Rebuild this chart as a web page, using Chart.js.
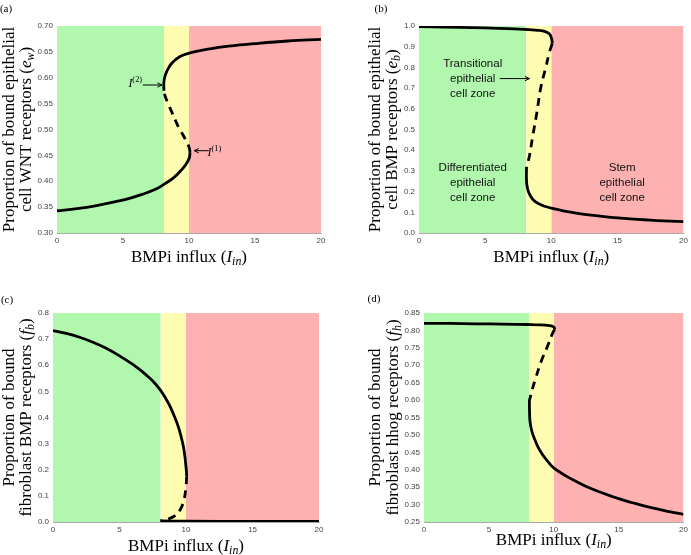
<!DOCTYPE html>
<html>
<head>
<meta charset="utf-8">
<script src="https://cdn.jsdelivr.net/npm/chart.js@4.4.0/dist/chart.umd.min.js"></script>
<style>
  body { margin: 0; background: #fff; }
  #wrap { position: relative; width: 691px; height: 555px; }
  canvas { position: absolute; }
</style>
</head>
<body>
<div id="wrap">
  <canvas id="pa" width="345" height="277" style="left:0;top:0"></canvas>
  <canvas id="pb" width="346" height="277" style="left:345px;top:0"></canvas>
  <canvas id="pc" width="345" height="278" style="left:0;top:277px"></canvas>
  <canvas id="pd" width="346" height="278" style="left:345px;top:277px"></canvas>
</div>
<script>
// zones along the BMPi influx axis
var zoneEdges = [0, 8.1, 10, 20];
var zoneColors = ['#b1f7ae', '#fefcb0', '#fdb1b1'];
var xTicks = [0, 5, 10, 15, 20];

// (a) epithelial WNT receptors e_w
var aTicks = [0.30, 0.35, 0.40, 0.45, 0.50, 0.55, 0.60, 0.65, 0.70];
var aLabels = ['0.30', '0.35', '0.40', '0.45', '0.50', '0.55', '0.60', '0.65', '0.70'];
var aLower = [[0,0.343],[1.5,0.347],[3,0.353],[4.5,0.361],[5.5,0.367],[6.5,0.375],[7.5,0.385],[8.1,0.394],[8.8,0.406],[9.4,0.421],[9.8,0.434],[10.02,0.445],[10.08,0.456]];
var aMiddle = [[10.08,0.456],[10.0,0.466],[9.82,0.476],[9.6,0.487],[9.32,0.499],[9.0,0.516],[8.69,0.534],[8.4,0.551],[8.2,0.564],[8.1,0.575]];
var aUpper = [[8.1,0.575],[8.09,0.589],[8.15,0.600],[8.31,0.612],[8.69,0.628],[9.32,0.641],[10.08,0.648],[11.6,0.656],[13,0.661],[15,0.666],[17.5,0.671],[20,0.674]];

// (b) epithelial BMP receptors e_b
var bTicks = [0, 0.1, 0.2, 0.3, 0.4, 0.5, 0.6, 0.7, 0.8, 0.9, 1.0];
var bLabels = ['0.0', '0.1', '0.2', '0.3', '0.4', '0.5', '0.6', '0.7', '0.8', '0.9', '1.0'];
var bUpper = [[0,0.997],[2,0.995],[4,0.992],[6,0.989],[8,0.984],[9,0.979],[9.6,0.972],[9.85,0.962],[9.98,0.948],[10.05,0.932],[10.07,0.915]];
var bMiddle = [[10.07,0.915],[9.97,0.895],[9.85,0.872],[9.6,0.803],[9.22,0.707],[8.9,0.578],[8.59,0.465],[8.35,0.372],[8.2,0.335],[8.13,0.32]];
var bLower = [[8.13,0.32],[8.12,0.275],[8.15,0.235],[8.28,0.198],[8.6,0.162],[9.0,0.143],[9.5,0.129],[10,0.12],[11,0.106],[12,0.095],[13,0.086],[14,0.079],[15,0.073],[16,0.068],[17,0.064],[18,0.06],[19,0.057],[20,0.055]];

// (c) fibroblast BMP receptors f_b
var cTicks = [0, 0.1, 0.2, 0.3, 0.4, 0.5, 0.6, 0.7, 0.8];
var cLabels = ['0.0', '0.1', '0.2', '0.3', '0.4', '0.5', '0.6', '0.7', '0.8'];
var cUpper = [[0,0.733],[1,0.722],[2,0.707],[3,0.688],[4,0.665],[5,0.636],[6,0.603],[6.5,0.584],[7,0.563],[7.5,0.54],[8.05,0.507],[8.5,0.471],[8.8,0.443],[9.1,0.408],[9.42,0.365],[9.65,0.323],[9.8,0.29],[9.92,0.25],[9.98,0.22],[10.03,0.195],[10.05,0.175]];
var cMiddle = [[10.05,0.175],[10.0,0.135],[9.85,0.085],[9.55,0.046],[9.05,0.02],[8.42,0.008],[8.08,0.004]];
var cLower = [[8.08,0.004],[10,0.003],[15,0.002],[20,0.002]];

// (d) fibroblast hhog receptors f_h
var dTicks = [0.25, 0.30, 0.35, 0.40, 0.45, 0.50, 0.55, 0.60, 0.65, 0.70, 0.75, 0.80, 0.85];
var dLabels = ['0.25', '0.30', '0.35', '0.40', '0.45', '0.50', '0.55', '0.60', '0.65', '0.70', '0.75', '0.80', '0.85'];
var dUpper = [[0,0.820],[2,0.820],[4,0.819],[6,0.818],[8,0.817],[9,0.816],[9.66,0.814],[9.9,0.812],[10.04,0.808],[10.07,0.803]];
var dMiddle = [[10.07,0.803],[9.91,0.792],[9.53,0.756],[9.02,0.71],[8.64,0.667],[8.33,0.629],[8.18,0.607],[8.12,0.6]];
var dLower = [[8.12,0.6],[8.13,0.57],[8.17,0.538],[8.3,0.512],[8.5,0.49],[8.8,0.464],[9.14,0.443],[9.6,0.421],[10.04,0.404],[11,0.381],[11.7,0.367],[12.5,0.352],[13.5,0.337],[15,0.317],[16,0.306],[17.5,0.291],[19,0.279],[20,0.272]];

var SERIF = '"Liberation Serif", "Times New Roman", serif';
var SANS = '"Liberation Sans", Arial, sans-serif';

// little rich-text helpers (italic, sub/superscripts)
function t(s) { return { t: s }; }
function it(s) { return { t: s, it: true }; }
function sub(s) { return { t: s, it: true, sub: true }; }
function sup(s) { return { t: s, sup: true }; }

function runFont(r, size, fam) {
  var s = (r.sub || r.sup) ? size * 0.7 : size;
  return (r.it ? 'italic ' : '') + s + 'px ' + fam;
}
function runsWidth(ctx, runs, size, fam) {
  var w = 0;
  runs.forEach(function (r) { ctx.font = runFont(r, size, fam); w += ctx.measureText(r.t).width; });
  return w;
}
// draws runs with left edge at x, baseline at y
function drawRuns(ctx, runs, x, y, size, fam) {
  runs.forEach(function (r) {
    ctx.font = runFont(r, size, fam);
    var dy = r.sub ? size * 0.22 : (r.sup ? -size * 0.42 : 0);
    ctx.fillText(r.t, x, y + dy);
    x += ctx.measureText(r.t).width;
  });
}
function drawText(ctx, runs, cx, cy, size, fam, align, rot) {
  ctx.save();
  ctx.translate(cx, cy);
  if (rot) ctx.rotate(-Math.PI / 2);
  ctx.textAlign = 'left';
  ctx.textBaseline = 'alphabetic';
  var w = runsWidth(ctx, runs, size, fam);
  var x0 = align === 'left' ? 0 : (align === 'right' ? -w : -w / 2);
  drawRuns(ctx, runs, x0, size * 0.33, size, fam);
  ctx.restore();
}
function drawArrow(ctx, x1, y1, x2, y2) {
  var a = Math.atan2(y2 - y1, x2 - x1), h = 5;
  ctx.save();
  ctx.strokeStyle = '#000';
  ctx.lineWidth = 1;
  ctx.beginPath();
  ctx.moveTo(x1, y1); ctx.lineTo(x2, y2);
  ctx.moveTo(x2 - h * Math.cos(a - 0.45), y2 - h * Math.sin(a - 0.45));
  ctx.lineTo(x2, y2);
  ctx.lineTo(x2 - h * Math.cos(a + 0.45), y2 - h * Math.sin(a + 0.45));
  ctx.stroke();
  ctx.restore();
}

function textPlugin(p) {
  return {
    id: 'paperText',
    afterDraw: function (chart) {
      var ctx = chart.ctx, area = chart.chartArea;
      var xs = chart.scales.x, ys = chart.scales.y;
      ctx.fillStyle = '#000';
      drawText(ctx, [t(p.tag)], p.tagPos[0], p.tagPos[1], 11, SERIF, 'center', false);
      var cy = (area.top + area.bottom) / 2;
      drawText(ctx, p.yLine1, p.yPos[0], cy, 17, SERIF, 'center', true);
      drawText(ctx, p.yLine2, p.yPos[1], cy, 17, SERIF, 'center', true);
      drawText(ctx, [t('BMPi influx ('), it('I'), sub('in'), t(')')], (area.left + area.right) / 2, p.xTitleY, 17, SERIF, 'center', false);
      (p.notes || []).forEach(function (n) {
        ctx.fillStyle = n.color || '#000';
        drawText(ctx, n.runs, xs.getPixelForValue(n.at[0]), ys.getPixelForValue(n.at[1]), n.size, n.fam, n.align, false);
      });
      (p.arrows || []).forEach(function (a) {
        drawArrow(ctx, xs.getPixelForValue(a[0]), ys.getPixelForValue(a[1]), xs.getPixelForValue(a[2]), ys.getPixelForValue(a[3]));
      });
    }
  };
}

function makePanel(id, p) {
  var datasets = [];
  var yMax = p.yTicks[p.yTicks.length - 1];
  for (var z = 0; z < zoneColors.length; z++) {
    datasets.push({
      data: [{ x: zoneEdges[z], y: yMax }, { x: zoneEdges[z + 1], y: yMax }],
      showLine: true, fill: 'start', backgroundColor: zoneColors[z],
      borderColor: 'transparent', borderWidth: 0, pointRadius: 0, order: 10
    });
  }
  p.branches.forEach(function (b) {
    datasets.push({
      data: b.pts.map(function (q) { return { x: q[0], y: q[1] }; }),
      showLine: true, fill: false, borderColor: '#000', borderWidth: 2.8,
      borderDash: b.dashed ? [8, 6] : [], borderCapStyle: 'butt',
      pointRadius: 0, tension: 0.4, order: 0
    });
  });
  new Chart(document.getElementById(id), {
    type: 'scatter',
    data: { datasets: datasets },
    options: {
      responsive: false,
      animation: false,
      events: [],
      layout: { padding: { left: 0, top: p.top, right: p.right, bottom: 0 } },
      plugins: { legend: { display: false }, tooltip: { enabled: false } },
      scales: {
        x: {
          type: 'linear', min: 0, max: 20,
          afterBuildTicks: function (s) { s.ticks = xTicks.map(function (v) { return { value: v }; }); },
          afterFit: function (s) { s.height = p.xAxisH; },
          ticks: { font: { family: SANS, size: 8 }, color: '#444', padding: 3, maxRotation: 0 },
          grid: { drawOnChartArea: false, drawTicks: false },
          border: { color: '#a8a8a8' }
        },
        y: {
          type: 'linear', min: p.yTicks[0], max: yMax,
          afterBuildTicks: function (s) { s.ticks = p.yTicks.map(function (v) { return { value: v }; }); },
          afterFit: function (s) { s.width = p.left; },
          ticks: {
            font: { family: SANS, size: 8 }, color: '#444', padding: 4,
            callback: function (v) { return p.yLabels[p.yTicks.indexOf(v)]; }
          },
          grid: { drawOnChartArea: false, drawTicks: false },
          border: { color: '#a8a8a8' }
        }
      }
    },
    plugins: [textPlugin(p)]
  });
}

makePanel('pa', {
  left: 57, top: 26, right: 24, xAxisH: 44,
  yTicks: aTicks, yLabels: aLabels,
  branches: [{ pts: aLower }, { pts: aMiddle, dashed: true }, { pts: aUpper }],
  tag: '(a)', tagPos: [6, 8],
  yLine1: [t('Proportion of bound epithelial')],
  yLine2: [t('cell WNT receptors ('), it('e'), sub('w'), t(')')],
  yPos: [8, 25], xTitleY: 256,
  notes: [
    { runs: [it('I'), sup('(2)')], at: [6.45, 0.589], size: 12, fam: SERIF, align: 'right' },
    { runs: [it('I'), sup('(1)')], at: [11.4, 0.457], size: 12, fam: SERIF, align: 'left' }
  ],
  arrows: [[6.5, 0.586, 7.95, 0.586], [11.5, 0.459, 10.4, 0.459]]
});

makePanel('pb', {
  left: 74, top: 26, right: 6, xAxisH: 44,
  yTicks: bTicks, yLabels: bLabels,
  branches: [{ pts: bUpper }, { pts: bMiddle, dashed: true }, { pts: bLower }],
  tag: '(b)', tagPos: [36, 8],
  yLine1: [t('Proportion of bound epithelial')],
  yLine2: [t('cell BMP receptors ('), it('e'), sub('b'), t(')')],
  yPos: [29, 46], xTitleY: 256,
  notes: [
    { runs: [t('Transitional')], at: [4.06, 0.819], size: 11.5, fam: SANS, align: 'center', color: '#111' },
    { runs: [t('epithelial')], at: [4.06, 0.746], size: 11.5, fam: SANS, align: 'center', color: '#111' },
    { runs: [t('cell zone')], at: [4.06, 0.674], size: 11.5, fam: SANS, align: 'center', color: '#111' },
    { runs: [t('Differentiated')], at: [4.06, 0.316], size: 11.5, fam: SANS, align: 'center', color: '#111' },
    { runs: [t('epithelial')], at: [4.06, 0.243], size: 11.5, fam: SANS, align: 'center', color: '#111' },
    { runs: [t('cell zone')], at: [4.06, 0.172], size: 11.5, fam: SANS, align: 'center', color: '#111' },
    { runs: [t('Stem')], at: [15.36, 0.316], size: 11.5, fam: SANS, align: 'center', color: '#111' },
    { runs: [t('epithelial')], at: [15.36, 0.243], size: 11.5, fam: SANS, align: 'center', color: '#111' },
    { runs: [t('cell zone')], at: [15.36, 0.172], size: 11.5, fam: SANS, align: 'center', color: '#111' }
  ],
  arrows: [[6.1, 0.746, 8.35, 0.746]]
});

makePanel('pc', {
  left: 53, top: 36, right: 26, xAxisH: 33,
  yTicks: cTicks, yLabels: cLabels,
  branches: [{ pts: cUpper }, { pts: cMiddle, dashed: true }, { pts: cLower }],
  tag: '(c)', tagPos: [7, 22],
  yLine1: [t('Proportion of bound')],
  yLine2: [t('fibroblast BMP receptors ('), it('f'), sub('b'), t(')')],
  yPos: [8, 25], xTitleY: 268
});

makePanel('pd', {
  left: 79, top: 36, right: 6, xAxisH: 33,
  yTicks: dTicks, yLabels: dLabels,
  branches: [{ pts: dUpper }, { pts: dMiddle, dashed: true }, { pts: dLower }],
  tag: '(d)', tagPos: [29, 21],
  yLine1: [t('Proportion of bound')],
  yLine2: [t('fibroblast hhog receptors ('), it('f'), sub('h'), t(')')],
  yPos: [29, 47], xTitleY: 262
});
</script>
</body>
</html>
